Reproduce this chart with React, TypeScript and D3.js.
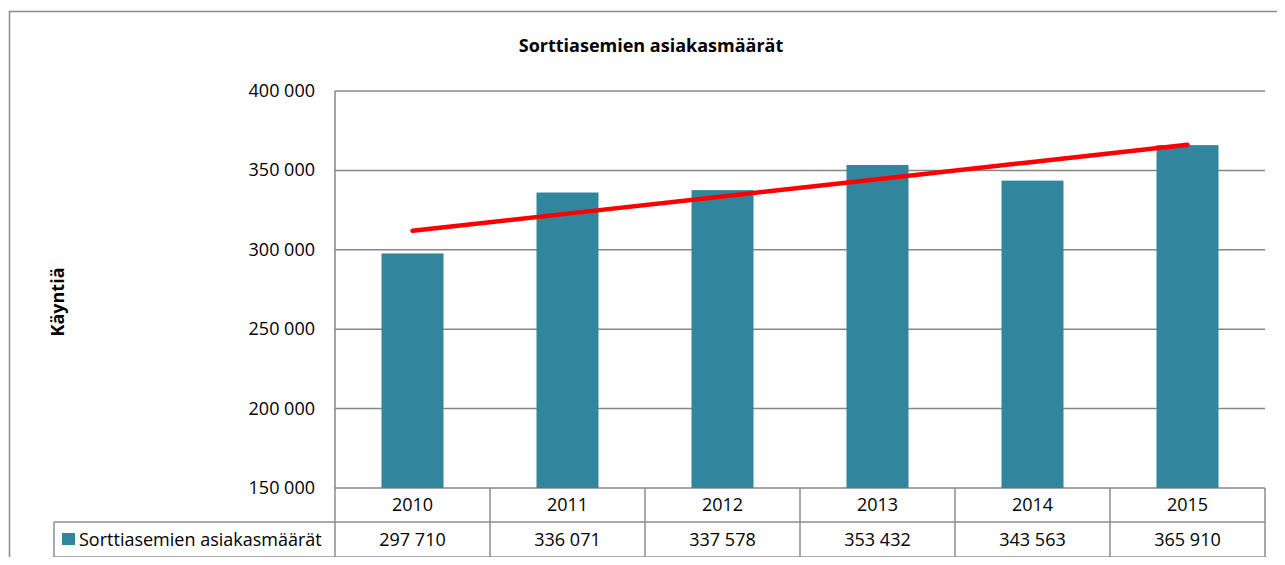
import React from 'react';
import * as d3 from 'd3';

const years = ['2010', '2011', '2012', '2013', '2014', '2015'];
const visits = [297710, 336071, 337578, 353432, 343563, 365910];
const yTicks = [150000, 200000, 250000, 300000, 350000, 400000];

const seriesName = 'Sorttiasemien asiakasmäärät';
const title = 'Sorttiasemien asiakasmäärät';
const yTitle = 'Käyntiä';

const W = 1285;
const H = 565;
const FONT = '"Open Sans", sans-serif';
const FS = 18;

const fmt = (v: number) => d3.format(',')(v).replace(/,/g, ' ');

const App = () => {
  const plotLeft = 335;
  const plotRight = 1265;
  const plotTop = 91;
  const plotBottom = 488;
  const rowH = 34;

  const x = d3.scaleBand<string>().domain(years).range([plotLeft, plotRight]);
  const y = d3.scaleLinear().domain([150000, 400000]).range([plotBottom, plotTop]);
  const barW = x.bandwidth() * 0.4;

  // linear trend line (least squares) over the series
  const idx = visits.map((_, i) => i);
  const mx = d3.mean(idx) as number;
  const my = d3.mean(visits) as number;
  const sxy = d3.sum(idx, (i) => (i - mx) * (visits[i] - my));
  const sxx = d3.sum(idx, (i) => (i - mx) * (i - mx));
  const slope = sxy / sxx;
  const trend = (i: number) => my + slope * (i - mx);
  const cx = (yr: string) => (x(yr) as number) + x.bandwidth() / 2;
  const trendLine = d3.line<number>()
    .x((i) => cx(years[i]))
    .y((i) => y(trend(i)));

  const gridColor = '#868686';
  const tableColor = '#8c8c8c';
  const barColor = '#31859c';

  return (
    <div style={{ margin: -8, width: W, height: H, background: '#fff' }}>
      <svg width={W} height={H} style={{ display: 'block', fontFamily: FONT }}>
        {/* outer frame */}
        <rect x={9.5} y={11.5} width={W + 10} height={H + 10} fill="#fff" stroke="#8a8a8a" strokeWidth={1.5} />

        <text x={651} y={52} textAnchor="middle" fontSize={FS} fontWeight="bold" fill="#000">{title}</text>

        <text transform={`translate(64,302) rotate(-90)`} textAnchor="middle" fontSize={FS} fontWeight="bold" fill="#000">{yTitle}</text>

        {/* gridlines */}
        {yTicks.map((t) => (
          <line key={t} x1={plotLeft} x2={plotRight} y1={y(t)} y2={y(t)} stroke={gridColor} strokeWidth={1.5} />
        ))}
        <line x1={plotLeft} x2={plotLeft} y1={plotTop} y2={plotBottom} stroke={gridColor} strokeWidth={1.5} />

        {yTicks.map((t) => (
          <text key={'l' + t} x={315} y={y(t) + 6} textAnchor="end" fontSize={FS} fill="#000">{fmt(t)}</text>
        ))}

        {/* bars */}
        {years.map((yr, i) => (
          <rect key={yr} x={cx(yr) - barW / 2} y={y(visits[i])} width={barW} height={plotBottom - y(visits[i])} fill={barColor} />
        ))}

        {/* trend */}
        <path d={trendLine(idx) as string} fill="none" stroke="#ff0000" strokeWidth={4.5} strokeLinecap="round" />

        {/* data table */}
        <g stroke={tableColor} strokeWidth={1.5} fill="none">
          <line x1={54} x2={plotRight} y1={plotBottom + rowH} y2={plotBottom + rowH} />
          <line x1={54} x2={plotRight} y1={plotBottom + rowH * 2 + 1} y2={plotBottom + rowH * 2 + 1} />
          <line x1={54} x2={54} y1={plotBottom + rowH} y2={plotBottom + rowH * 2 + 1} />
          <line x1={plotLeft} x2={plotLeft} y1={plotBottom} y2={plotBottom + rowH * 2 + 1} />
          {years.map((yr) => (
            <line key={'v' + yr} x1={(x(yr) as number) + x.bandwidth()} x2={(x(yr) as number) + x.bandwidth()} y1={plotBottom} y2={plotBottom + rowH * 2 + 1} />
          ))}
        </g>
        {years.map((yr, i) => (
          <g key={'t' + yr}>
            <text x={cx(yr)} y={plotBottom + 23} textAnchor="middle" fontSize={FS} fill="#000">{yr}</text>
            <text x={cx(yr)} y={plotBottom + rowH + 24} textAnchor="middle" fontSize={FS} fill="#000">{fmt(visits[i])}</text>
          </g>
        ))}
        <rect x={62} y={533} width={13} height={12} fill={barColor} />
        <text x={79} y={plotBottom + rowH + 24} fontSize={FS} fill="#000">{seriesName}</text>
      </svg>
    </div>
  );
};

export default App;
